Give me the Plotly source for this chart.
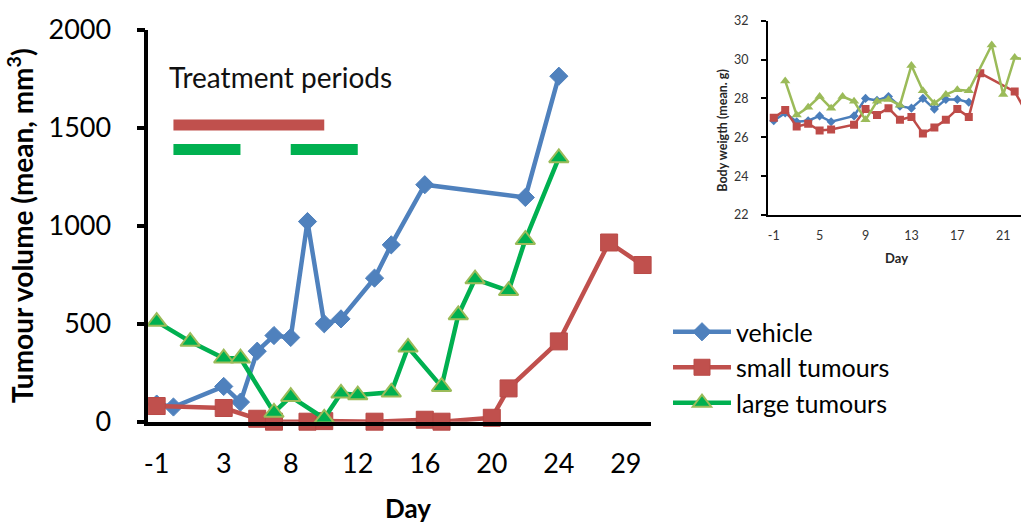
import plotly.graph_objects as go

# ---------------- data: main chart (tumour volume) ----------------
main_days = [-1, 0, 1, 2, 3, 4, 5, 7, 8, 9, 10, 11, 12, 13, 14, 15, 16, 17, 18,
             19, 20, 21, 22, 23, 24, 25, 26, 28, 29, 30]
main_tick_every = 4

vehicle_days = [-1, 0, 3, 4, 5, 7, 8, 9, 10, 11, 13, 14, 16, 22, 24]
vehicle_vol = [90, 75, 180, 100, 360, 440, 430, 1022, 500, 525, 733, 903, 1210, 1145, 1764]

small_days = [-1, 3, 5, 7, 9, 10, 13, 16, 17, 20, 21, 24, 28, 30]
small_vol = [80, 70, 15, 0, 0, 3, 0, 10, 0, 20, 170, 410, 915, 800]

large_days = [-1, 1, 3, 4, 7, 8, 10, 11, 12, 14, 15, 17, 18, 19, 21, 22, 24]
large_vol = [511, 409, 324, 324, 47, 128, 17, 145, 136, 150, 380, 179, 545, 728, 668, 929, 1347]

# treatment periods (start day, end day) and the level they are drawn at
small_treatment = [(0, 10)]
large_treatment = [(0, 4), (8, 12)]
small_treatment_level = 1515
large_treatment_level = 1390

# ---------------- data: inset (body weight) ----------------
bw_days = [-1, 2, 3, 4, 5, 6, 7, 8, 9, 10, 11, 12, 13, 14, 15, 16, 17, 18, 19,
           20, 21, 22, 23]
bw_tick_every = 4
bw_mark_every = 3

bw_vehicle_days = [-1, 2, 3, 4, 5, 6, 8, 9, 10, 11, 12, 13, 14, 15, 16, 17, 18]
bw_vehicle = [26.85, 27.25, 26.8, 26.85, 27.1, 26.8, 27.1, 28.0, 27.9, 28.1, 27.6,
              27.5, 28.0, 27.45, 27.95, 27.95, 27.8]

bw_small_days = [-1, 2, 3, 4, 5, 6, 8, 9, 10, 11, 12, 13, 14, 15, 16, 17, 18, 19, 22, 23]
bw_small = [27.0, 27.4, 26.55, 26.7, 26.35, 26.4, 26.65, 27.45, 27.15, 27.5, 26.9,
            27.05, 26.2, 26.5, 26.9, 27.45, 27.05, 29.3, 28.35, 27.3]

bw_large_days = [2, 3, 4, 5, 6, 7, 8, 9, 10, 11, 12, 13, 14, 15, 16, 17, 18, 20, 21, 22, 23]
bw_large = [28.9, 27.15, 27.55, 28.1, 27.5, 28.1, 27.85, 26.9, 27.85, 27.95, 27.65,
            29.7, 28.4, 27.75, 28.2, 28.45, 28.4, 30.75, 28.2, 30.1, 30.0]

# ---------------- styling ----------------
FONT = "Lato"
BLUE, RED, GREEN, GREEN_EDGE = "#4f81bd", "#c0504d", "#00b050", "#9bbb59"
I_BLUE, I_RED, I_GREEN = "#4a7ebb", "#be4b48", "#9bbb59"

W, H = 1021, 527
def px_x(p):
    return p / W
def px_y(p):
    return (H - p) / H

S = lambda v: [str(d) for d in v]

fig = go.Figure()

# main series
fig.add_trace(go.Scatter(
    x=S(vehicle_days), y=vehicle_vol, name="vehicle", mode="lines+markers",
    line=dict(color=BLUE, width=4.5),
    marker=dict(symbol="diamond", size=14, color=BLUE, line=dict(color=BLUE, width=1)),
    cliponaxis=False, xaxis="x", yaxis="y"))
fig.add_trace(go.Scatter(
    x=S(small_days), y=small_vol, name="small tumours", mode="lines+markers",
    line=dict(color=RED, width=4.5),
    marker=dict(symbol="square", size=17, color=RED, line=dict(color="#b94a47", width=1)),
    cliponaxis=False, xaxis="x", yaxis="y"))
fig.add_trace(go.Scatter(
    x=S(large_days), y=large_vol, name="large tumours", mode="lines+markers",
    line=dict(color=GREEN, width=4.5),
    marker=dict(symbol="triangle-up", size=17, color=GREEN, line=dict(color=GREEN_EDGE, width=2)),
    cliponaxis=False, xaxis="x", yaxis="y"))

# treatment period bars
for a, b in small_treatment:
    fig.add_trace(go.Scatter(x=S([a, b]), y=[small_treatment_level] * 2, mode="lines",
                             line=dict(color=RED, width=11), showlegend=False,
                             hoverinfo="skip", xaxis="x", yaxis="y"))
for a, b in large_treatment:
    fig.add_trace(go.Scatter(x=S([a, b]), y=[large_treatment_level] * 2, mode="lines",
                             line=dict(color=GREEN, width=11), showlegend=False,
                             hoverinfo="skip", xaxis="x", yaxis="y"))

# inset series
fig.add_trace(go.Scatter(
    x=S(bw_vehicle_days), y=bw_vehicle, mode="lines+markers", showlegend=False,
    line=dict(color=I_BLUE, width=2.5),
    marker=dict(symbol="diamond", size=7, color=I_BLUE),
    xaxis="x2", yaxis="y2"))
fig.add_trace(go.Scatter(
    x=S(bw_small_days), y=bw_small, mode="lines+markers", showlegend=False,
    line=dict(color=I_RED, width=2.5),
    marker=dict(symbol="square", size=8, color=I_RED),
    xaxis="x2", yaxis="y2"))
fig.add_trace(go.Scatter(
    x=S(bw_large_days), y=bw_large, mode="lines+markers", showlegend=False,
    line=dict(color=I_GREEN, width=2.5),
    marker=dict(symbol="triangle-up", size=9, color=I_GREEN),
    xaxis="x2", yaxis="y2"))

main_dom_x = [px_x(148.3), px_x(651)]
main_dom_y = [px_y(421.7), px_y(30)]
ins_dom_x = [px_x(768), 1.0]
ins_dom_y = [px_y(215), px_y(20.7)]

n_main = len(main_days)
n_bw = len(bw_days)
bw_visible_end = 21.55

fig.update_layout(
    width=W, height=H, margin=dict(l=0, r=0, t=0, b=0, autoexpand=False),
    paper_bgcolor="white", plot_bgcolor="white",
    font=dict(family=FONT, color="black"),
    xaxis=dict(domain=main_dom_x, anchor="y", type="category",
               categoryorder="array", categoryarray=S(main_days),
               range=[-0.5, n_main - 0.5],
               tickmode="array", tickvals=S(main_days[::main_tick_every]),
               ticks="", showline=True, linecolor="black", linewidth=3.5,
               showgrid=False, zeroline=False, automargin=False,
               tickfont=dict(size=27, family=FONT, color="black"),
               ticklabelstandoff=15),
    xaxis3=dict(overlaying="x", anchor="y", side="bottom", type="linear",
                range=[-0.5, n_main - 0.5],
                tickmode="array",
                tickvals=[i - 0.5 for i in range(0, n_main, main_tick_every)],
                ticks="outside", ticklen=8, tickwidth=3.5, tickcolor="black",
                showticklabels=False, showline=False, showgrid=False, zeroline=False),
    yaxis=dict(domain=main_dom_y, anchor="x", range=[0, 2000],
               tickmode="array", tickvals=[0, 500, 1000, 1500, 2000],
               ticks="outside", ticklen=8, tickwidth=3.5, tickcolor="black",
               showline=True, linecolor="black", linewidth=3.5,
               showgrid=False, zeroline=False, automargin=False,
               tickfont=dict(size=27, family=FONT, color="black"),
               ticklabelstandoff=20,
               title=dict(text="<b>Tumour volume (mean, mm<sup>3</sup>)</b>",
                          font=dict(size=28, family=FONT, color="black"), standoff=8)),
    xaxis2=dict(domain=ins_dom_x, anchor="y2", type="category",
                categoryorder="array", categoryarray=S(bw_days),
                range=[-0.5, bw_visible_end],
                tickmode="array", tickvals=S(bw_days[::bw_tick_every]),
                ticks="", showline=True, linecolor="black", linewidth=2,
                showgrid=False, zeroline=False, automargin=False,
                tickfont=dict(size=12.5, family=FONT, color="#333333"),
                ticklabelstandoff=8),
    xaxis4=dict(overlaying="x2", anchor="y2", side="bottom", type="linear",
                range=[-0.5, bw_visible_end],
                tickmode="array",
                tickvals=[i - 0.5 for i in range(0, n_bw, bw_mark_every)],
                ticks="outside", ticklen=5, tickwidth=2, tickcolor="black",
                showticklabels=False, showline=False, showgrid=False, zeroline=False),
    yaxis2=dict(domain=ins_dom_y, anchor="x2", range=[22, 32],
                tickmode="array", tickvals=[22, 24, 26, 28, 30, 32],
                ticks="outside", ticklen=5, tickwidth=2, tickcolor="black",
                showline=True, linecolor="black", linewidth=2,
                showgrid=False, zeroline=False, automargin=False,
                tickfont=dict(size=12.5, family=FONT, color="#333333"),
                ticklabelstandoff=10),
    legend=dict(x=px_x(668), y=px_y(309), xanchor="left", yanchor="top",
                font=dict(size=25, family=FONT, color="black"),
                itemwidth=58, bgcolor="rgba(0,0,0,0)", tracegroupgap=0),
    showlegend=True,
    annotations=[
        dict(text="Treatment periods", xref="paper", yref="paper",
             x=px_x(167), y=px_y(76.7), xanchor="left", yanchor="middle",
             showarrow=False, font=dict(size=28, family=FONT, color="#111111")),
        dict(text="<b>Day</b>", xref="paper", yref="paper",
             x=px_x(408), y=px_y(508), xanchor="center", yanchor="middle",
             showarrow=False, font=dict(size=26, family=FONT, color="black")),
        dict(text="<b>Body weigth (mean. g)</b>", xref="paper", yref="paper",
             x=px_x(721.7), y=px_y(130), xanchor="center", yanchor="middle",
             textangle=-90, showarrow=False,
             font=dict(size=12.5, family=FONT, color="#262626")),
        dict(text="<b>Day</b>", xref="paper", yref="paper",
             x=px_x(896.7), y=px_y(258), xanchor="center", yanchor="middle",
             showarrow=False, font=dict(size=13, family=FONT, color="#262626")),
    ],
)

fig.write_html("out.html")
